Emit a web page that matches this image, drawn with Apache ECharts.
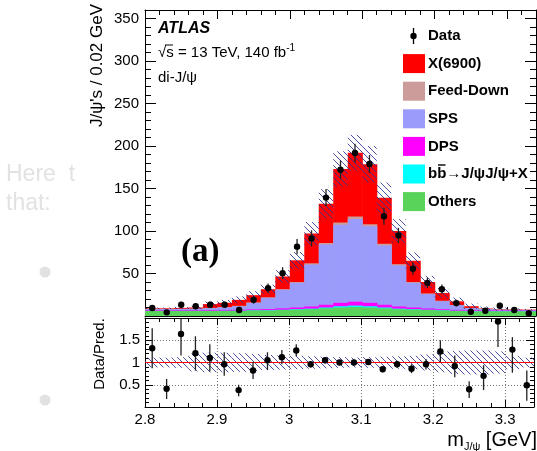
<!DOCTYPE html>
<html><head><meta charset="utf-8">
<script src="https://cdn.jsdelivr.net/npm/echarts@6.0.0/dist/echarts.min.js"></script>
<style>html,body{margin:0;padding:0;background:#fff;}#c{width:537px;height:451px;}</style>
</head><body><div id="c"></div>
<script>
// ---------------- data ----------------
const binCenters = [2.81,2.83,2.85,2.87,2.89,2.91,2.93,2.95,2.97,2.99,3.01,3.03,3.05,3.07,3.09,3.11,3.13,3.15,3.17,3.19,3.21,3.23,3.25,3.27,3.29,3.31,3.33];
const binWidth = 0.02;
const others   = [6,6,6,6,6,6,6,6.5,6.5,7,7.5,8,9,10,10.5,10,9,8,7.5,7,6.5,6,5.5,5.5,5.5,5.5,5.5];
const bbbar    = [0.1,0.1,0.1,0.1,0.1,0.2,0.2,0.2,0.3,0.4,0.5,0.7,1,1.5,1.8,1.5,1,0.7,0.5,0.4,0.3,0.2,0.2,0.1,0.1,0.1,0.1];
const dps      = [0.8,0.8,0.8,0.8,0.9,1,1,1.1,1.3,1.6,2,2.5,3.2,4,4.5,4,3.2,2.5,2,1.5,1.2,1,0.9,0.8,0.8,0.8,0.8];
const sps      = [1.1,1.1,1.4,1.6,2.2,3.0,4.4,7.7,13.3,21.8,29,49.3,70.8,92,97.2,90,69.8,48.3,29,16.9,9.4,5.4,2.6,1.6,1.0,0.8,0.7];
const feedDown = [0.2,0.2,0.2,0.2,0.3,0.3,0.4,0.5,0.6,0.8,1,1.5,2,2.5,3,2.5,2,1.5,1,0.8,0.6,0.4,0.3,0.2,0.2,0.2,0.2];
const x6900    = [0.8,0.8,1.0,1.3,4.5,5,7,8.5,9.5,14.9,25.5,35,46,63,75,70.6,54,39,25,13.4,9,4.2,2,0.6,0.4,0.3,0.2];
const dataVals = [9.5,4.3,13.2,11.4,13.2,13.2,7,19,32.8,50.4,81.6,91.3,139.3,172,191.7,178.8,117.4,94.8,55.6,39,31.6,15.2,5,6.2,12,7,3.2];
const dataErr  = [3,2,3.5,3.5,3.5,3.5,2.5,4.5,5.5,7,9,9.5,10,11,11,10.5,10,9,7.5,6,5.5,4,2.5,2.5,3.5,2.5,2];
const ratioVals  = [1.32,0.41,1.64,1.21,1.10,0.96,0.38,0.82,1.05,1.12,1.27,0.96,1.05,1.0,1.0,1.01,0.85,0.96,0.86,0.96,1.25,0.92,0.40,0.70,1.92,1.29,0.49];
const ratioErrUp = [0.45,0.22,0.35,0.38,0.31,0.27,0.12,0.19,0.18,0.16,0.14,0.07,0.07,0.06,0.06,0.06,0.07,0.08,0.1,0.12,0.25,0.24,0.18,0.24,0.3,0.28,0.33];
const ratioErrDn = [0.45,0.23,0.48,0.39,0.3,0.26,0.14,0.19,0.22,0.16,0.13,0.07,0.07,0.06,0.06,0.06,0.07,0.08,0.1,0.12,0.24,0.25,0.2,0.32,0.57,0.52,0.35];
const relUnc     = [0.11,0.11,0.12,0.2,0.22,0.22,0.21,0.19,0.17,0.16,0.15,0.14,0.13,0.12,0.11,0.12,0.13,0.14,0.15,0.18,0.22,0.26,0.27,0.27,0.25,0.15,0.11];
const xTickLabels = ['2.8','2.9','3','3.1','3.2','3.3'];
const yTickLabels = [50,100,150,200,250,300,350];
const ratioTickLabels = ['0.5','1','1.5'];
const legendNames = ['X(6900)','Feed-Down','SPS','DPS','b\u0062\u2192J/\u03c8J/\u03c8+X','Others'];

// ---------------- styling ----------------
const FONT = 'Liberation Sans, Arial, sans-serif';
const colors = {others:'#5ad35a', bbbar:'#00ffff', dps:'#ff00ff', sps:'#9b9bfb', feedDown:'#cc9c9a', x6900:'#ff0000'};
const HATCH = '#2b3190';

const layerDefs = [
  {vals: others, color: colors.others},
  {vals: bbbar, color: colors.bbbar},
  {vals: dps, color: colors.dps},
  {vals: sps, color: colors.sps},
  {vals: feedDown, color: colors.feedDown},
  {vals: x6900, color: colors.x6900}
];
const cum = [];
layerDefs.forEach((l, k) => {
  cum.push(l.vals.map((v, i) => v + (k ? cum[k-1][i] : 0)));
});
const total = cum[cum.length-1];

function histRect(params, api) {
  const cs = params.coordSys;
  const a = api.coord([api.value(0), api.value(2)]);
  const b = api.coord([api.value(1), api.value(3)]);
  const x = Math.min(a[0], b[0]);
  const xr = Math.min(Math.max(a[0], b[0]) + 0.6, cs.x + cs.width);
  const yTop = Math.max(Math.min(a[1], b[1]), cs.y);
  const yBot = Math.min(Math.max(a[1], b[1]), cs.y + cs.height);
  if (yBot <= yTop) return {type:'group', children:[]};
  return {type:'rect', shape:{x:x, y:yTop, width:xr - x, height:yBot - yTop}, style:{fill: api.visual('color')}};
}

function hatchRect(params, api) {
  const cs = params.coordSys;
  const a = api.coord([api.value(0), api.value(2)]);
  const b = api.coord([api.value(1), api.value(3)]);
  const x0 = Math.min(a[0], b[0]), x1 = Math.max(a[0], b[0]);
  const yTop = Math.max(Math.min(a[1], b[1]), cs.y);
  const yBot = Math.min(Math.max(a[1], b[1]), cs.y + cs.height);
  const children = [];
  const s = 6;
  if (yBot > yTop) {
    const cMin = Math.ceil((yTop - x1) / s) * s;
    const cMax = yBot - x0;
    for (let c = cMin; c <= cMax; c += s) {
      const xa = Math.max(x0, yTop - c), xb = Math.min(x1, yBot - c);
      if (xb > xa) children.push({type:'line', shape:{x1:xa, y1:xa + c, x2:xb, y2:xb + c},
        style:{stroke: HATCH, lineWidth: 1, opacity: 0.85}});
    }
  }
  return {type:'group', children: children};
}

function pointItem(params, api) {
  const cs = params.coordSys;
  const p = api.coord([api.value(0), api.value(1)]);
  const lo = api.coord([api.value(0), api.value(2)]);
  const hi = api.coord([api.value(0), api.value(3)]);
  const yA = Math.max(hi[1], cs.y), yB = Math.min(lo[1], cs.y + cs.height);
  return {type:'group', children:[
    {type:'line', shape:{x1:p[0], y1:yA, x2:p[0], y2:yB}, style:{stroke:'#222', lineWidth:1.3}},
    {type:'circle', shape:{cx:p[0], cy:p[1], r:3.2}, style:{fill:'#000'}}
  ]};
}

const binLo = i => binCenters[i] - binWidth / 2;
const binHi = i => binCenters[i] + binWidth / 2;
const idx = binCenters.map((_, i) => i);

const series = [];
for (let k = layerDefs.length - 1; k >= 0; k--) {
  series.push({type:'custom', xAxisIndex:0, yAxisIndex:0, z: 2 + (layerDefs.length - k) * 0.01,
    itemStyle:{color: layerDefs[k].color}, renderItem: histRect, silent:true,
    data: idx.map(i => [binLo(i), binHi(i), 0, cum[k][i]])});
}
series.push({type:'custom', xAxisIndex:0, yAxisIndex:0, z:3, renderItem: hatchRect, silent:true,
  data: idx.map(i => [binLo(i), binHi(i), total[i] * (1 - relUnc[i]), total[i] * (1 + relUnc[i])])});
series.push({type:'custom', xAxisIndex:0, yAxisIndex:0, z:4, renderItem: pointItem, silent:true,
  data: idx.map(i => [binCenters[i], dataVals[i], dataVals[i] - dataErr[i], dataVals[i] + dataErr[i]])});
series.push({type:'custom', xAxisIndex:2, yAxisIndex:2, z:3, renderItem: hatchRect, silent:true,
  data: idx.map(i => [binLo(i), binHi(i), 1 - relUnc[i], 1 + relUnc[i]])});
series.push({type:'line', xAxisIndex:2, yAxisIndex:2, z:3.5, symbol:'none', silent:true,
  lineStyle:{color:'#ff0000', width:1.2}, data:[[2.8, 1], [3.34, 1]]});
series.push({type:'custom', xAxisIndex:2, yAxisIndex:2, z:4, renderItem: pointItem, silent:true,
  data: idx.map(i => [binCenters[i], ratioVals[i], ratioVals[i] - ratioErrDn[i], ratioVals[i] + ratioErrUp[i]])});

const black = {color:'#000', width:1};
function xAx(grid, pos, labels, split, tickLen, minorLen) {
  return {type:'value', gridIndex:grid, position:pos, min:2.8, max:3.34, interval:0.1,
    axisLine:{show:true, onZero:false, lineStyle:black},
    axisTick:{show:true, inside:true, length:tickLen, lineStyle:black},
    minorTick:{show:true, splitNumber:5, length:minorLen, lineStyle:black},
    splitLine:{show:split, lineStyle:{color:'#777', type:[1,2], width:1}},
    axisLabel:{show:labels, fontFamily:FONT, fontSize:15, color:'#000', margin:5,
      formatter: v => { const t = Math.round((v - 2.8) * 10); return Math.abs(v - 2.8 - t / 10) < 1e-6 ? (xTickLabels[t] || '') : ''; }}};
}
function yAx(grid, pos, labels, min, max, interval, fmt, split, tickLen, minorLen, margin) {
  return {type:'value', gridIndex:grid, position:pos, min:min, max:max, interval:interval,
    axisLine:{show:true, onZero:false, lineStyle:black},
    axisTick:{show:true, inside:true, length:tickLen, lineStyle:black},
    minorTick:{show:true, splitNumber:5, length:minorLen, lineStyle:black},
    splitLine:{show:split, lineStyle:{color:'#777', type:[1,2], width:1}},
    axisLabel:{show:labels, fontFamily:FONT, fontSize:15, color:'#000', margin:margin, formatter: fmt}};
}
const topFmt = v => yTickLabels.indexOf(v) >= 0 ? String(v) : '';
const ratioFmt = v => { const t = Math.round(v * 2); return Math.abs(v * 2 - t) < 1e-6 ? (ratioTickLabels[t - 1] || '') : ''; };

// legend graphics
const graphic = [];
const rowY = i => 36 + i * 27.6;
graphic.push({type:'line', shape:{x1:413.5, y1:28, x2:413.5, y2:44}, style:{stroke:'#000', lineWidth:1.3}});
graphic.push({type:'circle', shape:{cx:413.5, cy:36, r:3.2}, style:{fill:'#000'}});
graphic.push({type:'text', x:428, y:rowY(0), style:{text:'Data', font:'bold 15px ' + FONT, fill:'#000', textVerticalAlign:'middle'}});
const legendColors = [colors.x6900, colors.feedDown, colors.sps, colors.dps, colors.bbbar, colors.others];
legendNames.forEach((name, i) => {
  const y = rowY(i + 1);
  graphic.push({type:'rect', shape:{x:403, y:y - 9.5, width:22, height:19}, style:{fill: legendColors[i]}});
  graphic.push({type:'text', x:428, y:y, style:{text:name, font:'bold 15px ' + FONT, fill:'#000', textVerticalAlign:'middle'}});
});
// bar over second b
graphic.push({type:'line', shape:{x1:438, y1:rowY(5) - 9, x2:445.5, y2:rowY(5) - 9}, style:{stroke:'#000', lineWidth:1.4}});

// ATLAS label block
graphic.push({type:'text', x:158, y:29, style:{text:'ATLAS', font:'italic bold 16px ' + FONT, fill:'#000', textVerticalAlign:'middle'}});
graphic.push({type:'text', x:158, y:53, style:{text:'{a|\u221As = 13 TeV, 140 fb}{s|-1}', fill:'#000', textVerticalAlign:'middle',
  rich:{a:{fontFamily:FONT, fontSize:15, lineHeight:20, fill:'#000'}, s:{fontFamily:FONT, fontSize:10, lineHeight:12, verticalAlign:'top', fill:'#000'}}}});
graphic.push({type:'line', shape:{x1:165, y1:45, x2:173, y2:45}, style:{stroke:'#000', lineWidth:1}});
graphic.push({type:'text', x:158, y:78, style:{text:'di-J/\u03c8', font:'15px ' + FONT, fill:'#000', textVerticalAlign:'middle'}});
graphic.push({type:'text', x:181, y:252, style:{text:'(a)', font:'bold 33px Liberation Serif, Times New Roman, serif', fill:'#000', textVerticalAlign:'middle'}});

// axis titles
graphic.push({type:'text', x:97, y:4, rotation:Math.PI / 2, style:{text:'J/\u03c8\'s / 0.02 GeV', font:'17px ' + FONT, fill:'#000', textAlign:'right', textVerticalAlign:'middle'}});
graphic.push({type:'text', x:100, y:354, rotation:Math.PI / 2, style:{text:'Data/Pred.', font:'15px ' + FONT, fill:'#000', textAlign:'center', textVerticalAlign:'middle'}});
graphic.push({type:'text', x:537, y:440, style:{text:'{m|m}{s|J/\u03c8}{m| [GeV]}', textAlign:'right', textVerticalAlign:'middle',
  rich:{m:{fontFamily:FONT, fontSize:20, lineHeight:24, fill:'#000'}, s:{fontFamily:FONT, fontSize:11, lineHeight:14, verticalAlign:'bottom', fill:'#000'}}}});

// faint text at the left edge
graphic.push({type:'text', x:6, y:175, style:{text:'Here  t', font:'23px ' + FONT, fill:'#e2e2e2', textVerticalAlign:'middle'}});
graphic.push({type:'text', x:6, y:204, style:{text:'that:', font:'23px ' + FONT, fill:'#e2e2e2', textVerticalAlign:'middle'}});
graphic.push({type:'circle', shape:{cx:45, cy:272, r:5.5}, style:{fill:'#e2e2e2'}});
graphic.push({type:'circle', shape:{cx:45, cy:400, r:5.5}, style:{fill:'#e2e2e2'}});

const option = {
  animation:false,
  backgroundColor:'#fff',
  grid:[
    {left:145, top:10, width:391, height:306},
    {left:145, top:318, width:391, height:89}
  ],
  xAxis:[
    xAx(0, 'bottom', false, false, 9, 5),
    xAx(0, 'top', false, false, 9, 5),
    xAx(1, 'bottom', true, true, 7, 4),
    xAx(1, 'top', false, false, 7, 4)
  ],
  yAxis:[
    yAx(0, 'left', true, 0, 360, 50, topFmt, false, 11, 6, 6),
    yAx(0, 'right', false, 0, 360, 50, topFmt, false, 11, 6, 6),
    yAx(1, 'left', true, 0, 2, 0.5, ratioFmt, true, 8, 4, 5),
    yAx(1, 'right', false, 0, 2, 0.5, ratioFmt, false, 8, 4, 5)
  ],
  series: series,
  graphic: graphic
};
const chart = echarts.init(document.getElementById('c'));
chart.setOption(option);
</script></body></html>
